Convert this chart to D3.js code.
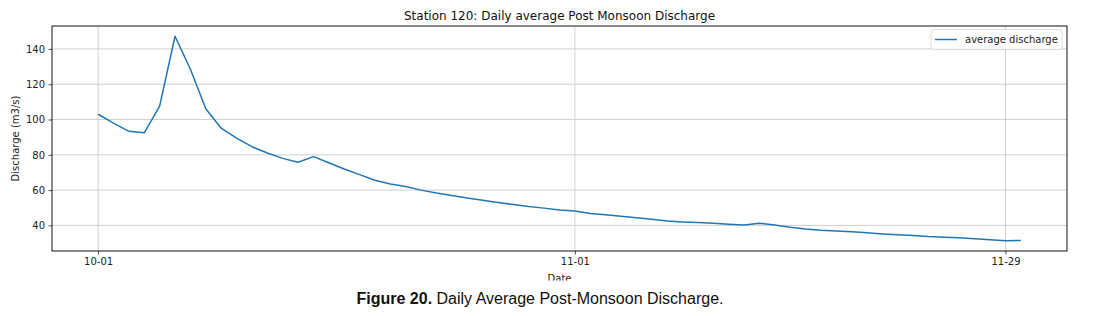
<!DOCTYPE html>
<html>
<head>
<meta charset="utf-8">
<script src="https://cdn.jsdelivr.net/npm/d3@7"></script>
<style>
  html, body { margin: 0; padding: 0; background: #fff; }
  svg { display: block; }
</style>
</head>
<body>
<svg id="chart" width="1097" height="316"></svg>
<script>
// ---- data ----
const startDate = "2021-10-01";
const discharge = [
  103.0, 98.0, 93.3, 92.5, 107.6, 147.2, 128.5, 106.1, 95.1, 89.5,
  84.6, 81.0, 78.0, 75.8, 79.0, 75.5, 72.0, 68.8, 65.6, 63.5,
  62.0, 60.0, 58.4, 57.0, 55.5, 54.2, 53.0, 51.8, 50.7, 49.8,
  48.8, 48.2, 46.8, 46.0, 45.2, 44.4, 43.5, 42.5, 42.0, 41.6,
  41.2, 40.7, 40.3, 41.2, 40.2, 38.9, 38.0, 37.3, 36.8, 36.4,
  35.8, 35.2, 34.7, 34.3, 33.7, 33.3, 33.0, 32.5, 31.9, 31.3,
  31.5
];
const xTickLabels = ["10-01", "11-01", "11-29"];
const yTicks = [40, 60, 80, 100, 120, 140];
const titleText = "Station 120: Daily average Post Monsoon Discharge";
const xLabel = "Date";
const yLabel = "Discharge (m3/s)";
const legendLabel = "average discharge";
const captionBold = "Figure 20.";
const captionRest = " Daily Average Post-Monsoon Discharge.";

// ---- layout ----
const M = { left: 52, right: 1067, top: 26, bottom: 251 };
const svg = d3.select("#chart");
const font = "DejaVu Sans, sans-serif";

const parse = d3.timeParse("%Y-%m-%d");
const start = parse(startDate);
const series = discharge.map((v, i) => ({ date: d3.timeDay.offset(start, i), v }));
const first = series[0].date, last = series[series.length - 1].date;
const span = last - first;
const x = d3.scaleTime()
  .domain([new Date(+first - span * 0.05), new Date(+last + span * 0.05)])
  .range([M.left, M.right]);
const ext = d3.extent(discharge);
const pad = (ext[1] - ext[0]) * 0.05;
const y = d3.scaleLinear().domain([ext[0] - pad, ext[1] + pad]).range([M.bottom, M.top]);

const year = start.getFullYear();
const xTickDates = xTickLabels.map(s => parse(year + "-" + s));

// grid
const grid = svg.append("g");
grid.selectAll(".gx").data(xTickDates).enter().append("line")
  .attr("x1", d => x(d)).attr("x2", d => x(d))
  .attr("y1", M.top).attr("y2", M.bottom)
  .attr("stroke", "#c4c4c4").attr("stroke-width", 0.8);
grid.selectAll(".gy").data(yTicks).enter().append("line")
  .attr("x1", M.left).attr("x2", M.right)
  .attr("y1", d => y(d)).attr("y2", d => y(d))
  .attr("stroke", "#c4c4c4").attr("stroke-width", 0.8);

// line
const line = d3.line().x(d => x(d.date)).y(d => y(d.v));
svg.append("path").datum(series)
  .attr("d", line)
  .attr("fill", "none")
  .attr("stroke", "#1f77b4")
  .attr("stroke-width", 1.5)
  .attr("stroke-linejoin", "round");

// axes
const xAxis = d3.axisBottom(x).tickValues(xTickDates).tickFormat(d3.timeFormat("%m-%d"))
  .tickSize(3.5).tickPadding(3.5);
const yAxis = d3.axisLeft(y).tickValues(yTicks).tickSize(3.5).tickPadding(3.5);
const gx = svg.append("g").attr("transform", `translate(0,${M.bottom})`).call(xAxis);
const gy = svg.append("g").attr("transform", `translate(${M.left},0)`).call(yAxis);
[gx, gy].forEach(g => {
  g.select(".domain").remove();
  g.selectAll("text").attr("font-family", font).attr("font-size", 10).attr("fill", "#222");
  g.selectAll("line").attr("stroke", "#222").attr("stroke-width", 0.8);
});

// spines
svg.append("rect")
  .attr("x", M.left).attr("y", M.top)
  .attr("width", M.right - M.left).attr("height", M.bottom - M.top)
  .attr("fill", "none").attr("stroke", "#111").attr("stroke-width", 1);

// title
svg.append("text").attr("x", (M.left + M.right) / 2).attr("y", 20)
  .attr("text-anchor", "middle").attr("font-family", font).attr("font-size", 12)
  .attr("fill", "#111").text(titleText);

// y label
svg.append("text")
  .attr("transform", `translate(19,${(M.top + M.bottom) / 2}) rotate(-90)`)
  .attr("text-anchor", "middle").attr("font-family", font).attr("font-size", 10)
  .attr("fill", "#222").text(yLabel);

// x label (clipped at the bottom like the reference)
svg.append("text").attr("x", (M.left + M.right) / 2).attr("y", 282)
  .attr("text-anchor", "middle").attr("font-family", font).attr("font-size", 10)
  .attr("fill", "#222").text(xLabel);
svg.append("rect").attr("x", 0).attr("y", 280.5).attr("width", 1097).attr("height", 36).attr("fill", "#fff");

// legend
const lg = svg.append("g");
lg.append("rect").attr("x", 931).attr("y", 29.5).attr("width", 131).attr("height", 20)
  .attr("rx", 2.5).attr("fill", "#fff").attr("fill-opacity", 0.8)
  .attr("stroke", "#d6d6d6").attr("stroke-width", 0.8);
lg.append("line").attr("x1", 935).attr("x2", 957).attr("y1", 39.5).attr("y2", 39.5)
  .attr("stroke", "#1f77b4").attr("stroke-width", 1.5);
lg.append("text").attr("x", 965).attr("y", 43).attr("font-family", font).attr("font-size", 10)
  .attr("fill", "#222").text(legendLabel);

// caption
const cap = svg.append("text").attr("x", 540).attr("y", 304)
  .attr("text-anchor", "middle").attr("font-family", "Liberation Sans, Arial, sans-serif")
  .attr("font-size", 16).attr("fill", "#111");
cap.append("tspan").attr("font-weight", "bold").text(captionBold);
cap.append("tspan").text(captionRest);
</script>
</body>
</html>
